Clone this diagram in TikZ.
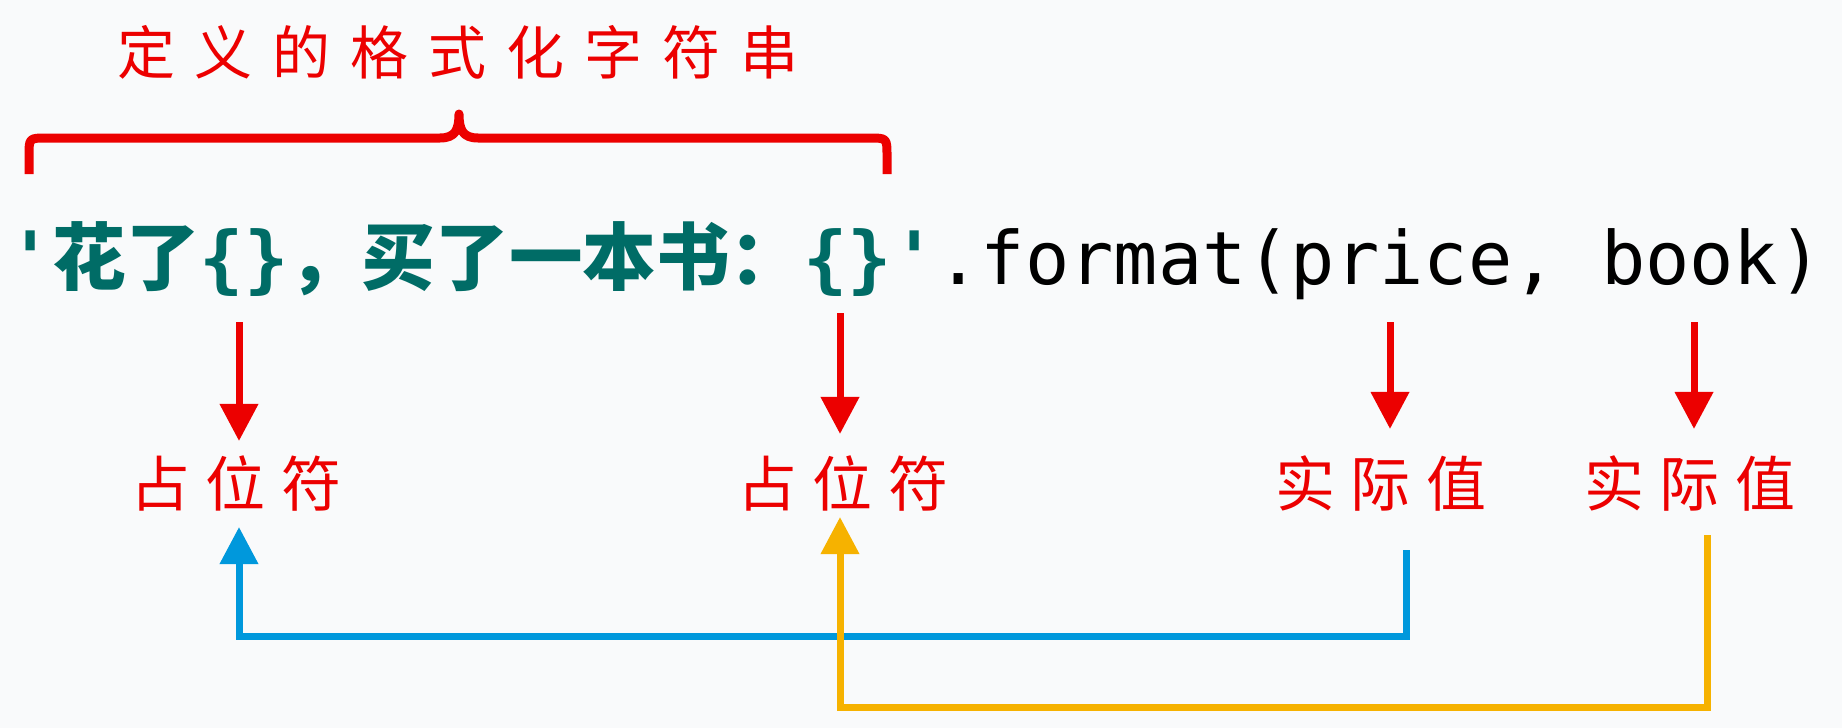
\documentclass[tikz,border=0pt]{standalone}
\usepackage{fontspec}
\setmonofont{DejaVu Sans Mono}
\newfontfamily\cjk{Noto Sans CJK SC}
\usetikzlibrary{arrows.meta}
\definecolor{bgc}{RGB}{249,250,251}
\definecolor{codeteal}{RGB}{0,108,102}
\definecolor{mred}{RGB}{236,0,0}
\definecolor{mblue}{RGB}{0,152,220}
\definecolor{myellow}{RGB}{246,178,0}
\begin{document}
\begin{tikzpicture}[x=1pt,y=-1pt,
  titletext/.style={text=mred, font=\cjk\fontsize{58}{64}\selectfont, inner sep=0pt},
  lab/.style={text=mred, font=\cjk\fontsize{60}{66}\selectfont, inner sep=0pt},
  codeline/.style={inner sep=0pt, anchor=base west, font=\ttfamily\fontsize{73.6}{80}\selectfont},
  bracepath/.style={draw=mred, line width=9pt, line join=round},
  redarrow/.style={draw=mred, line width=7pt, -{Triangle[width=37pt,length=37pt]}},
  bluearrow/.style={draw=mblue, line width=7pt, -{Triangle[width=37pt,length=37pt]}},
  yellowarrow/.style={draw=myellow, line width=7pt, -{Triangle[width=37pt,length=37pt]}}
]
\useasboundingbox (0,0) rectangle (1842,728);
\fill[bgc] (0,0) rectangle (1842,728);

% title and brace
\node[titletext] (title) at (458,52) {定\hspace{20pt}义\hspace{20pt}的\hspace{20pt}格\hspace{20pt}式\hspace{20pt}化\hspace{20pt}字\hspace{20pt}符\hspace{20pt}串};
\coordinate (brL) at (29,174);
\coordinate (brR) at (887,174);
\coordinate (brTip) at (459,114);
\draw[bracepath] (brL) -- (29,156) .. controls (29,138) .. (47,138) -- (440,138)
  .. controls (455,138) and (459,130) .. (brTip)
  .. controls (459,130) and (463,138) .. (478,138) -- (869,138)
  .. controls (887,138) .. (887,156) -- (brR);

% code line
\node[codeline] (code) at (8,284) {\color{codeteal}\bfseries '{\cjk 花了}\{\}{\cjk ，买了一本书：}\{\}'\color{black}\mdseries .format(price, book)};

% labels
\node[lab] (l1) at (236,483) {占\hspace{16pt}位\hspace{16pt}符};
\node[lab] (l2) at (843,483) {占\hspace{16pt}位\hspace{16pt}符};
\node[lab] (l3) at (1381,483) {实\hspace{16pt}际\hspace{16pt}值};
\node[lab] (l4) at (1690,483) {实\hspace{16pt}际\hspace{16pt}值};

% red arrows
\coordinate (s1) at (239,322);
\coordinate (s2) at (840,313);
\coordinate (s3) at (1390,322);
\coordinate (s4) at (1694,322);
\draw[redarrow, shorten >=14pt] (s1) -- (s1 |- l1.north);
\draw[redarrow, shorten >=21pt] (s2) -- (s2 |- l2.north);
\draw[redarrow, shorten >=26pt] (s3) -- (s3 |- l3.north);
\draw[redarrow, shorten >=26pt] (s4) -- (s4 |- l4.north);

% blue and yellow connectors
\coordinate (bstart) at (1406,550);
\coordinate (bcorner) at (239,636);
\coordinate (ystart) at (1707,535);
\coordinate (ycorner) at (840,707);
\draw[bluearrow, shorten >=16pt] (bstart) |- (bcorner) -- (bcorner |- l1.south);
\draw[yellowarrow, shorten >=6pt] (ystart) |- (ycorner) -- (ycorner |- l2.south);
\end{tikzpicture}
\end{document}
